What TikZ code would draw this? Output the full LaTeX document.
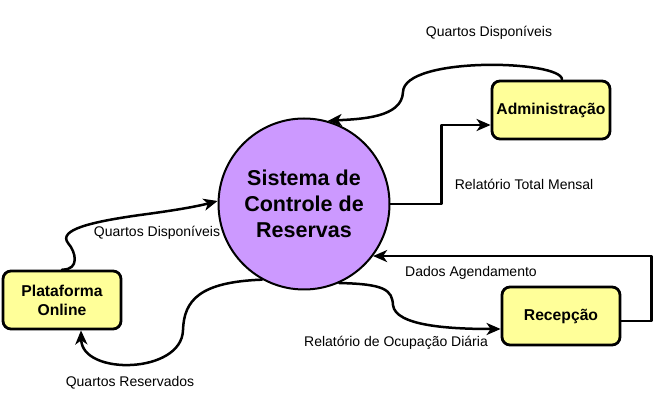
\documentclass[tikz,border=0pt]{standalone}
\usepackage{fontspec}
\setmainfont{Liberation Sans}
\usetikzlibrary{arrows.meta}
\definecolor{roxo}{HTML}{CC99FF}
\definecolor{amarelo}{HTML}{FFFF99}
\tikzset{
	caixa/.style={draw, line width=2.8pt, rounded corners=8pt, fill=amarelo, minimum width=118pt, minimum height=58pt, align=center, inner sep=2pt, font=\fontsize{15.7}{19}\selectfont\bfseries},
	fluxo/.style={line width=2.5pt, -{Stealth[length=14pt,width=12pt,inset=4pt]}},
	rotulo/.style={font=\fontsize{14}{16}\selectfont, inner sep=0pt}
}
\begin{document}
\begin{tikzpicture}[x=1pt, y=-1pt, line join=round, line cap=round]
	%Khung.
	\useasboundingbox (0,0) rectangle (661,411);
	%Processo central.
	\node[circle, draw, line width=2pt, fill=roxo, minimum size=171pt, inner sep=0pt, align=center, font=\fontsize{21.5}{26}\selectfont\bfseries] (sis) at (304,204) {Sistema de\\Controle de\\Reservas};
	%Entidades externas.
	\node[caixa] (adm) at (551,110) {Administração};
	\node[caixa] (plat) at (62,300) {Plataforma\\Online};
	\node[caixa] (rec) at (561,316) {Recepção};
	%Fluxos.
	\draw[fluxo] ([xshift=11pt]adm.north) .. controls (562,60) and (404,56) .. (403,92) .. controls (402,118) and (360,119) .. (sis.74);
	\draw[fluxo] (sis.east) -- ++(51,0) |- ([yshift=-15pt]adm.west);
	\draw[fluxo] ([yshift=-5pt]rec.east) -- ++(30,0) |- (sis.-37);
	\draw[fluxo] (sis.-66) .. controls (385,284) and (392,290) .. (393,305) .. controls (395,326) and (450,329) .. ([yshift=-13pt]rec.west);
	\draw[fluxo] (sis.-119) .. controls (200,282) and (184,300) .. (183,330) .. controls (182,374) and (82,376) .. ([xshift=19pt]plat.south);
	\draw[fluxo] (plat.north) .. controls (80,270) and (76,252) .. (68,243) .. controls (58,230) and (90,222) .. (140,215) .. controls (170,211) and (195,207) .. (sis.178);
	%Rótulos.
	\node[rotulo] (r1) at (489,33) {Quartos Disponíveis};
	\node[rotulo] (r2) at (524,184) {Relatório Total Mensal};
	\node[rotulo] (r3) at (471,273) {Dados Agendamento};
	\node[rotulo] (r4) at (396,343) {Relatório de Ocupação Diária};
	\node[rotulo] (r5) at (130,383) {Quartos Reservados};
	\node[rotulo] (r6) at (157,233) {Quartos Disponíveis};
\end{tikzpicture}
\end{document}
